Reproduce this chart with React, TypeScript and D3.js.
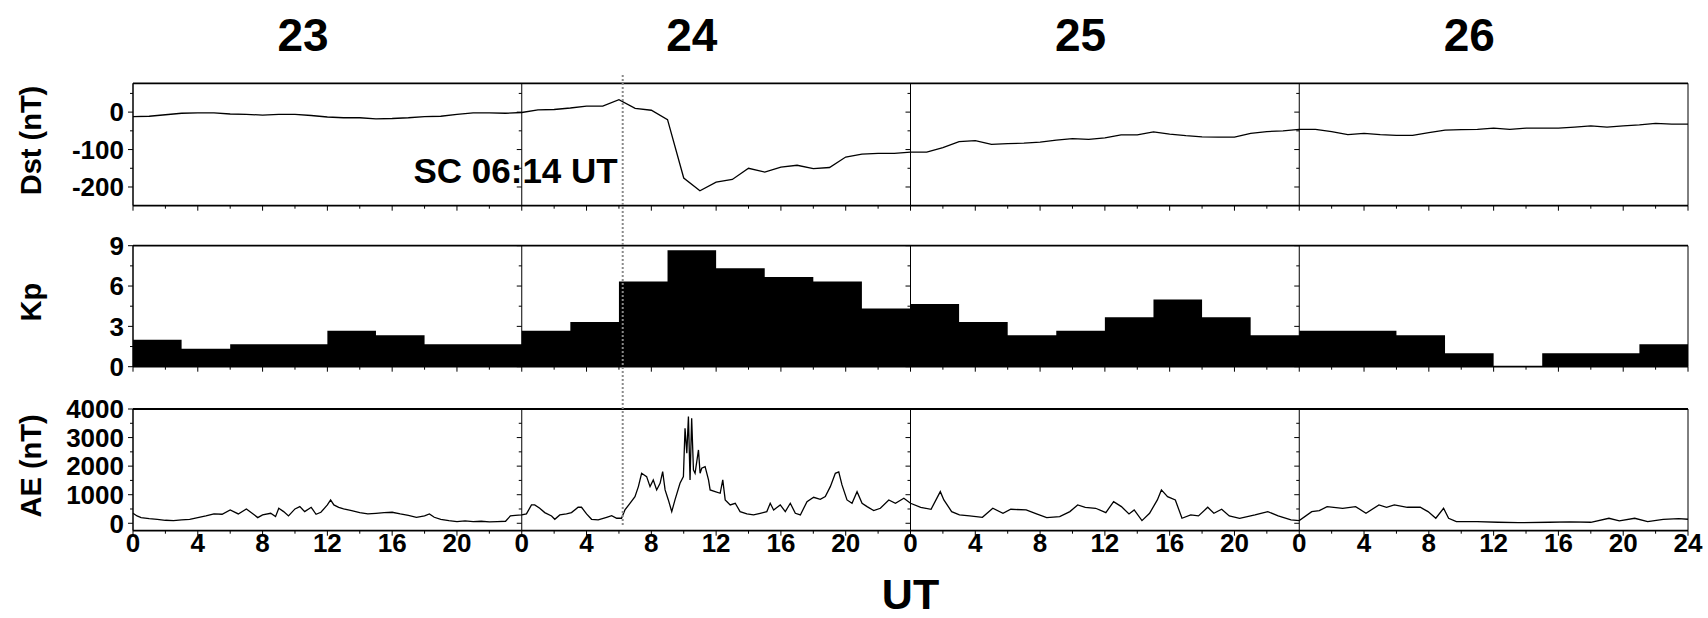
import React from 'react';
import * as d3 from 'd3';

const WIDTH = 1708;
const HEIGHT = 618;
const FONT = '"Liberation Sans", Arial, sans-serif';

const DAYS = ['23', '24', '25', '26'];
const HOUR_LABELS = [0, 4, 8, 12, 16, 20];
const SC_HOUR = 24 + 6 + 14 / 60;

// hourly Dst (nT), one array per day; last day carries the closing 24h value
const DST_23 = [-12, -11, -7, -3, -2, -2, -5, -6, -8, -6, -6, -9, -13, -15, -15, -18, -17, -15, -12, -11, -6, -2, -2, -3];
const DST_24 = [-1, 6, 7, 11, 16, 16, 33, 10, 5, -20, -176, -210, -187, -180, -150, -160, -147, -142, -151, -148, -120, -112, -110, -110];
const DST_25 = [-107, -107, -95, -79, -76, -86, -84, -83, -80, -75, -71, -73, -69, -61, -61, -53, -59, -63, -66, -67, -67, -57, -52, -50];
const DST_26 = [-46, -46, -52, -60, -57, -60, -62, -62, -55, -48, -47, -46, -43, -46, -43, -43, -43, -40, -37, -40, -37, -34, -30, -32, -32];

// 3-hourly Kp
const KP_23 = [2, 1.33, 1.67, 1.67, 2.67, 2.33, 1.67, 1.67];
const KP_24 = [2.67, 3.33, 6.33, 8.67, 7.33, 6.67, 6.33, 4.33];
const KP_25 = [4.67, 3.33, 2.33, 2.67, 3.67, 5, 3.67, 2.33];
const KP_26 = [2.67, 2.67, 2.33, 1, 0, 1, 1, 1.67];

// AE (nT) as [hour of day, value]
const AE_23 = [[0, 350], [0.25, 257], [0.5, 198], [1, 163], [1.5, 140], [2, 105], [2.5, 93], [3, 117], [3.5, 140], [4, 198], [4.5, 257], [5, 327], [5.5, 315], [6, 467], [6.5, 327], [7, 502], [7.5, 292], [7.7, 198], [8, 292], [8.5, 350], [8.8, 233], [9, 525], [9.3, 408], [9.6, 257], [10, 502], [10.3, 583], [10.6, 408], [11, 560], [11.3, 315], [11.6, 385], [12, 642], [12.2, 817], [12.4, 642], [12.7, 560], [13, 502], [13.5, 443], [14, 373], [14.5, 327], [15, 350], [15.5, 373], [16, 385], [16.5, 327], [17, 280], [17.5, 210], [18, 257], [18.3, 327], [18.6, 210], [19, 140], [19.5, 93], [20, 58], [20.5, 82], [21, 58], [21.5, 70], [22, 47], [22.5, 58], [23, 70], [23.3, 257], [23.6, 280]];
const AE_24 = [[0, 292], [0.29, 327], [0.6, 642], [0.8, 642], [1.11, 525], [1.42, 373], [1.84, 257], [2.04, 140], [2.35, 292], [2.76, 327], [3.07, 373], [3.48, 560], [3.69, 560], [4.0, 327], [4.31, 140], [4.72, 117], [5.24, 210], [5.55, 268], [5.86, 175], [6.16, 175], [6.37, 467], [6.68, 700], [6.99, 933], [7.2, 1283], [7.4, 1750], [7.71, 1633], [7.92, 1283], [8.12, 1517], [8.33, 1167], [8.54, 1400], [8.7, 1808], [8.85, 1167], [9.05, 817], [9.26, 408], [9.46, 817], [9.77, 1400], [9.98, 1633], [10.08, 3325], [10.19, 2450], [10.29, 3733], [10.39, 1517], [10.49, 3675], [10.6, 1867], [10.7, 1750], [10.91, 2567], [11.01, 1750], [11.11, 1925], [11.32, 1983], [11.53, 1517], [11.63, 1167], [11.94, 1108], [12.25, 1050], [12.41, 1517], [12.56, 817], [12.87, 642], [13.18, 700], [13.48, 408], [13.9, 327], [14.31, 292], [14.72, 350], [15.13, 408], [15.34, 700], [15.55, 467], [15.96, 642], [16.27, 408], [16.58, 700], [16.89, 350], [17.2, 292], [17.61, 758], [18.02, 910], [18.43, 840], [18.74, 933], [19.05, 1283], [19.36, 1750], [19.57, 1800], [19.77, 1342], [20.08, 817], [20.39, 700], [20.7, 1108], [21.01, 700], [21.32, 583], [21.73, 443], [22.14, 525], [22.66, 817], [23.07, 700], [23.59, 875]];
const AE_25 = [[0, 700], [0.63, 560], [1.27, 490], [1.84, 1108], [2.06, 817], [2.54, 408], [3.02, 292], [3.65, 257], [4.44, 210], [5.08, 525], [5.71, 350], [6.19, 490], [7.14, 467], [7.78, 327], [8.41, 198], [9.21, 233], [9.84, 408], [10.32, 642], [10.79, 560], [11.43, 525], [12.06, 373], [12.54, 758], [13.02, 583], [13.49, 327], [13.81, 467], [14.29, 93], [14.76, 350], [15.24, 817], [15.49, 1167], [15.87, 933], [16.35, 817], [16.76, 175], [17.3, 292], [17.78, 257], [18.35, 560], [18.73, 350], [19.21, 490], [19.68, 257], [20.32, 175], [21.27, 292], [22.06, 408], [22.7, 257], [23.49, 117]];
const AE_26 = [[0, 93], [0.77, 408], [1.24, 443], [1.72, 583], [2.68, 525], [3.48, 583], [4.12, 350], [4.92, 642], [5.39, 560], [5.87, 642], [6.67, 560], [7.47, 560], [7.95, 408], [8.43, 175], [8.91, 525], [9.22, 175], [9.7, 58], [10.98, 58], [12.26, 35], [13.53, 23], [15.45, 35], [16.72, 47], [18.0, 35], [19.12, 175], [19.76, 82], [20.71, 175], [21.51, 58], [22.47, 140], [23.43, 163], [24, 140]];

const x = d3.scaleLinear().domain([0, 96]).range([133, 1688]);
const yDst = d3.scaleLinear().domain([-250, 77]).range([205.7, 83.3]);
const yKp = d3.scaleLinear().domain([0, 9]).range([366.7, 245.7]);
const yAe = d3.scaleLinear().domain([-260, 4000]).range([530.7, 409]);

const PANELS = [
  { title: 'Dst (nT)', y: yDst, major: [-200, -100, 0], minor: [-150, -50, 50] },
  { title: 'Kp', y: yKp, major: [0, 3, 6, 9], minor: [1.5, 4.5, 7.5] },
  { title: 'AE (nT)', y: yAe, major: [0, 1000, 2000, 3000, 4000], minor: [500, 1500, 2500, 3500] },
];

const dstPoints = [DST_23, DST_24, DST_25, DST_26].flatMap((arr, d) => arr.map((v, h) => [d * 24 + h, v]));
const aePoints = [AE_23, AE_24, AE_25, AE_26].flatMap((arr, d) => arr.map(([h, v]) => [d * 24 + h, v]));
const kpSteps = [KP_23, KP_24, KP_25, KP_26].flatMap((arr, d) => arr.map((v, i) => [d * 24 + i * 3, v]));
// the last 3-hour bar has to close at the right edge
kpSteps.push([96, KP_26[KP_26.length - 1]]);

const dstLine = d3.line().x(d => x(d[0])).y(d => yDst(d[1]));
const aeLine = d3.line().x(d => x(d[0])).y(d => yAe(d[1]));
const kpArea = d3.area().curve(d3.curveStepAfter).x(d => x(d[0])).y0(yKp(0)).y1(d => yKp(d[1]));

const xTicks = d3.range(0, 97, 2);

function Panel({ p, showLabels }) {
  const [y0, y1] = p.y.range();
  const mid = (y0 + y1) / 2;
  return (
    <g>
      {/* day separators with their own left ticks */}
      {DAYS.map((_, d) => (
        <g key={d}>
          <line x1={x(d * 24)} x2={x(d * 24)} y1={y1} y2={y0} stroke="#000" strokeWidth={d === 0 ? 1.5 : 1} />
          {p.major.map(v => (
            <line key={'M' + v} x1={x(d * 24) - 5} x2={x(d * 24)} y1={p.y(v)} y2={p.y(v)} stroke="#000" strokeWidth={1} />
          ))}
          {p.minor.map(v => (
            <line key={'m' + v} x1={x(d * 24) - 3} x2={x(d * 24)} y1={p.y(v)} y2={p.y(v)} stroke="#000" strokeWidth={1} />
          ))}
        </g>
      ))}
      <line x1={x(0)} x2={x(96)} y1={y1} y2={y1} stroke="#000" strokeWidth={1.8} />
      <line x1={x(0)} x2={x(96)} y1={y0} y2={y0} stroke="#000" strokeWidth={1.8} />
      <line x1={x(96)} x2={x(96)} y1={y1} y2={y0} stroke="#000" strokeWidth={1} />
      {xTicks.map(t => (
        <line key={t} x1={x(t)} x2={x(t)} y1={y0} y2={y0 + (t % 4 === 0 ? 5 : 3)} stroke="#000" strokeWidth={1} />
      ))}
      {p.major.map(v => (
        <text key={v} x={124} y={p.y(v)} dy="0.36em" textAnchor="end" fontSize={26} fontWeight="bold" fontFamily={FONT}>
          {v}
        </text>
      ))}
      <text transform={`translate(41, ${mid - 4}) rotate(-90)`} textAnchor="middle" fontSize={29} fontWeight="bold" fontFamily={FONT}>
        {p.title}
      </text>
      {showLabels && DAYS.map((_, d) => HOUR_LABELS.map(h => (
        <text key={d + '-' + h} x={x(d * 24 + h)} y={552} textAnchor="middle" fontSize={26} fontWeight="bold" fontFamily={FONT}>
          {h}
        </text>
      )))}
      {showLabels && (
        <text x={x(96)} y={552} textAnchor="middle" fontSize={26} fontWeight="bold" fontFamily={FONT}>24</text>
      )}
    </g>
  );
}

export default function App() {
  return (
    <svg width={WIDTH} height={HEIGHT} style={{ position: 'absolute', left: 0, top: 0, display: 'block', background: '#fff' }}>
      {DAYS.map((day, d) => (
        <text key={day} x={x(d * 24 + 10.5)} y={51} textAnchor="middle" fontSize={46} fontWeight="bold" fontFamily={FONT}>
          {day}
        </text>
      ))}

      <path d={kpArea(kpSteps)} fill="#000" />

      {PANELS.map((p, i) => (
        <Panel key={p.title} p={p} showLabels={i === 2} />
      ))}

      <path d={dstLine(dstPoints)} fill="none" stroke="#000" strokeWidth={1.3} />
      <path d={aeLine(aePoints)} fill="none" stroke="#000" strokeWidth={1.3} />

      <line x1={x(SC_HOUR)} x2={x(SC_HOUR)} y1={75} y2={527} stroke="#8a8a8a" strokeWidth={2} strokeDasharray="2,2" />
      <text x={x(SC_HOUR) - 5} y={183} textAnchor="end" fontSize={35} fontWeight="bold" fontFamily={FONT}>
        SC 06:14 UT
      </text>

      <text x={x(48)} y={609} textAnchor="middle" fontSize={43} fontWeight="bold" fontFamily={FONT}>UT</text>
    </svg>
  );
}
